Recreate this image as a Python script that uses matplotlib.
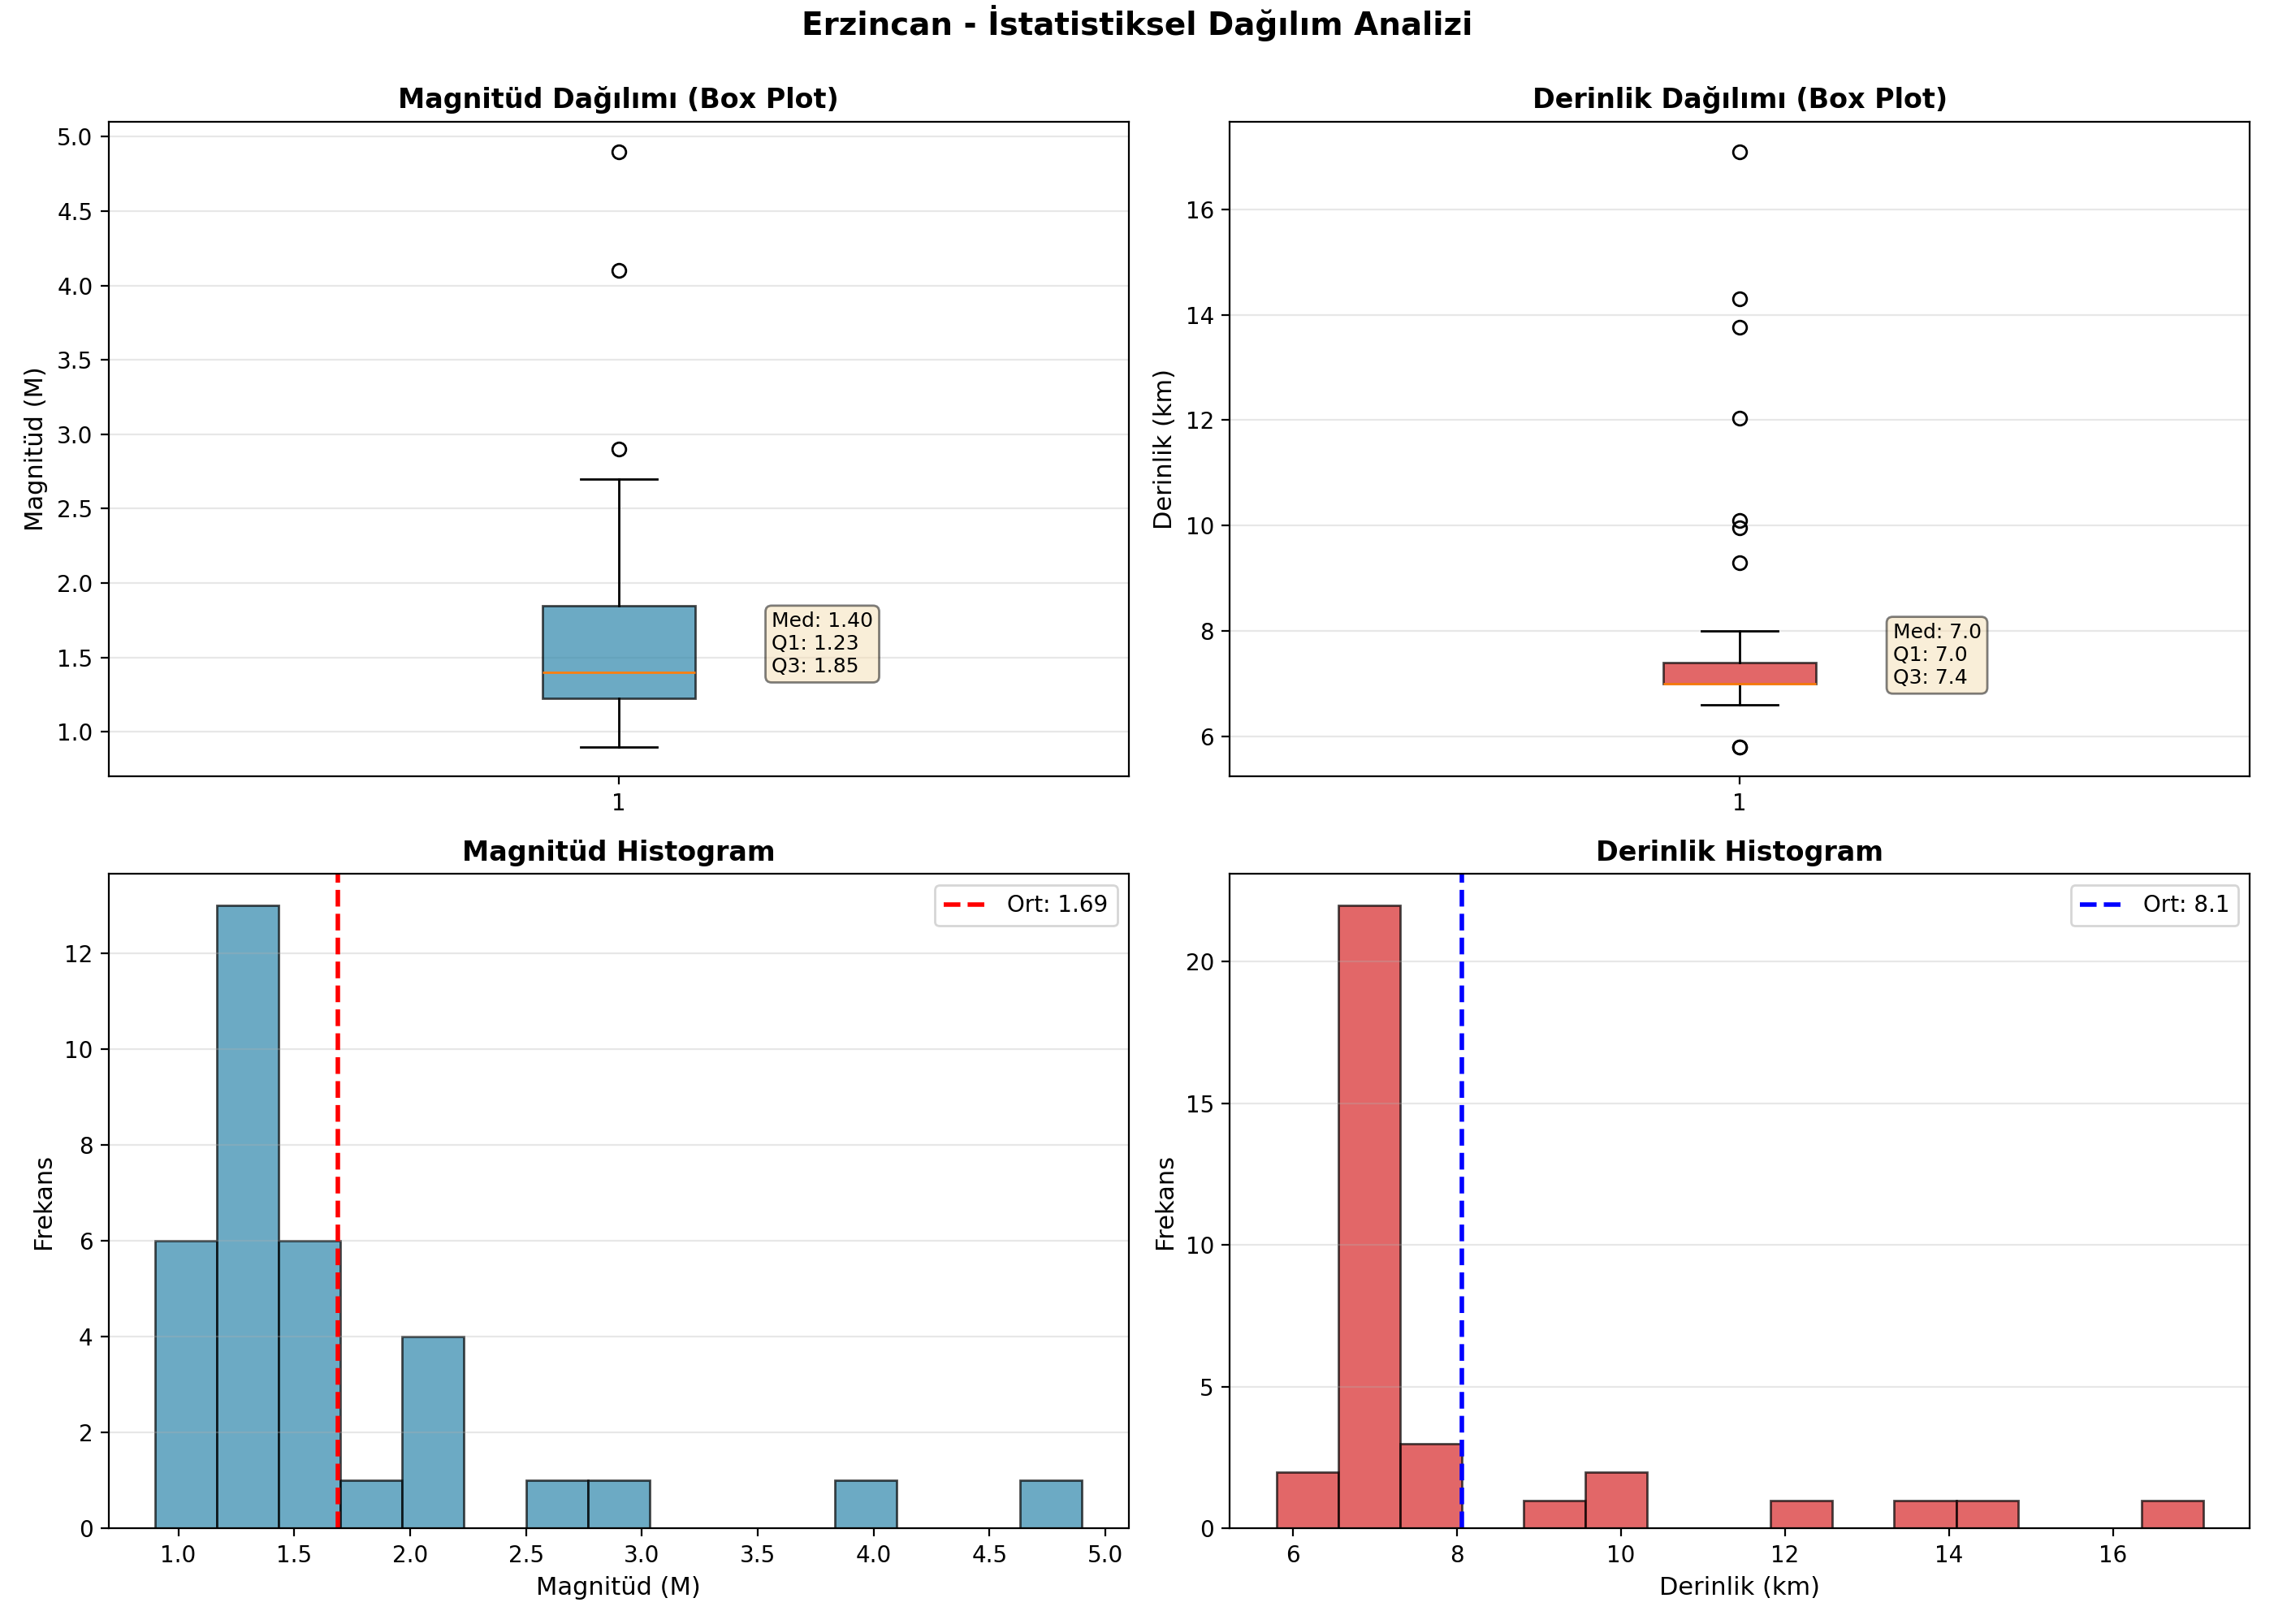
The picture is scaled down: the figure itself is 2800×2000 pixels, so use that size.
import numpy as np
import matplotlib
matplotlib.use('Agg')
import matplotlib.pyplot as plt

city = 'Erzincan'

# magnitudes of the 34 events (M)
magnitudes = [0.9, 1.0, 1.0, 1.1, 1.1, 1.1,
              1.2, 1.2, 1.2, 1.3, 1.3, 1.3, 1.3, 1.3, 1.3, 1.3, 1.4, 1.4, 1.4,
              1.5, 1.5, 1.6, 1.6, 1.6, 1.7,
              1.9,
              2.0, 2.0, 2.1, 2.2,
              2.7, 2.9, 4.1, 4.9]

# depths of the same events (km)
depths = [5.8, 5.8,
          6.6, 6.7, 6.8, 6.8, 6.9, 6.9, 7.0, 7.0, 7.0, 7.0, 7.0, 7.0, 7.0,
          7.0, 7.0, 7.0, 7.0, 7.0, 7.0, 7.1, 7.2, 7.2,
          7.4, 7.4, 8.0,
          9.3, 9.96, 10.09, 12.03, 13.76, 14.3, 17.1]

mag_color = '#2E86AB'
dep_color = '#d62728'

mag = np.array(magnitudes)
dep = np.array(depths)

fig, axes = plt.subplots(2, 2, figsize=(14, 10), dpi=200)
fig.suptitle(f'{city} - İstatistiksel Dağılım Analizi', fontsize=14, fontweight='bold', y=0.997)

# box plots
for ax, data, color, title, ylabel, fmt in [
        (axes[0, 0], mag, mag_color, 'Magnitüd Dağılımı (Box Plot)', 'Magnitüd (M)', '.2f'),
        (axes[0, 1], dep, dep_color, 'Derinlik Dağılımı (Box Plot)', 'Derinlik (km)', '.1f')]:
    bp = ax.boxplot(data, patch_artist=True)
    for patch in bp['boxes']:
        patch.set_facecolor(color)
        patch.set_alpha(0.7)
    ax.set_title(title, fontsize=12, fontweight='bold')
    ax.set_ylabel(ylabel, fontsize=11)
    ax.grid(True, alpha=0.3, axis='y')

    q1, med, q3 = np.percentile(data, [25, 50, 75])
    ax.text(1.15, med, f'Med: {med:{fmt}}\nQ1: {q1:{fmt}}\nQ3: {q3:{fmt}}',
            fontsize=9, bbox=dict(boxstyle='round', facecolor='wheat', alpha=0.5))

# histograms
for ax, data, color, line_color, title, xlabel, fmt in [
        (axes[1, 0], mag, mag_color, 'red', 'Magnitüd Histogram', 'Magnitüd (M)', '.2f'),
        (axes[1, 1], dep, dep_color, 'blue', 'Derinlik Histogram', 'Derinlik (km)', '.1f')]:
    ax.hist(data, bins=15, color=color, alpha=0.7, edgecolor='black')
    mean = data.mean()
    ax.axvline(mean, color=line_color, linestyle='--', linewidth=2, label=f'Ort: {mean:{fmt}}')
    ax.set_title(title, fontsize=12, fontweight='bold')
    ax.set_xlabel(xlabel, fontsize=11)
    ax.set_ylabel('Frekans', fontsize=11)
    ax.legend()
    ax.grid(True, alpha=0.3, axis='y')

plt.tight_layout()
fig.subplots_adjust(top=0.925)
plt.savefig('out.png', dpi=200)
